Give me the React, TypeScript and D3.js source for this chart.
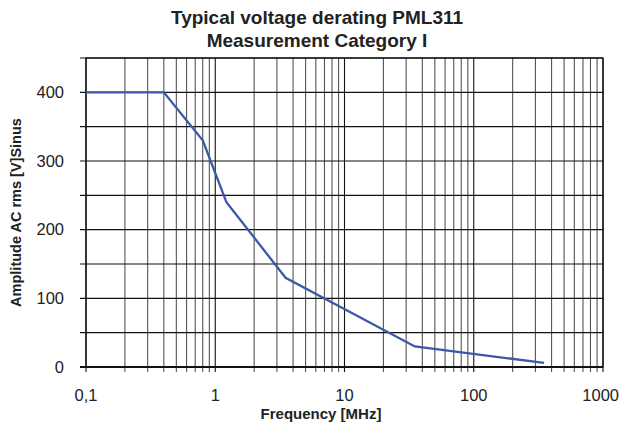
import * as d3 from "d3"
import { useEffect, useRef } from "react"

// Derating curve
const freqMHz = [0.1, 0.4, 0.8, 1.22, 3.5, 35, 350]
const voltage = [400, 400, 330, 240, 130, 30, 6]

const yTicks = [0, 100, 200, 300, 400]
const xTicks = [0.1, 1, 10, 100, 1000]

const titleLines = ["Typical voltage derating PML311", "Measurement Category I"]
const xLabel = "Frequency [MHz]"
const yLabel = "Amplitude AC rms [V]Sinus"

export default function App() {
  const svgRef = useRef<SVGSVGElement>(null)

  useEffect(() => {
    if (!svgRef.current) return
    const root = d3.select(svgRef.current)
    root.selectAll("*").remove()

    const W = 620
    const H = 428
    const margin = { top: 58, right: 17, bottom: 61, left: 86 }
    const width = W - margin.left - margin.right
    const height = H - margin.top - margin.bottom
    const font = "'Liberation Sans', Arial, sans-serif"

    root.attr("width", W).attr("height", H).style("font-family", font)

    const x = d3.scaleLog().domain([0.1, 1000]).range([0, width])
    const y = d3.scaleLinear().domain([0, 450]).range([height, 0])

    const g = root.append("g").attr("transform", `translate(${margin.left},${margin.top})`)

    // every 1..9 line of each decade
    const minor: number[] = []
    for (let e = -1; e < 3; e++) {
      for (let m = 1; m < 10; m++) minor.push(m * Math.pow(10, e))
    }
    minor.push(1000)

    g.append("g")
      .selectAll("line")
      .data(minor)
      .join("line")
      .attr("x1", (d) => x(d))
      .attr("x2", (d) => x(d))
      .attr("y1", 0)
      .attr("y2", height + 5)
      .attr("stroke", (d) => (xTicks.includes(d) ? "#111" : "#555"))
      .attr("stroke-width", 1.1)

    g.append("g")
      .selectAll("line")
      .data(d3.range(0, 451, 50))
      .join("line")
      .attr("x1", -6)
      .attr("x2", width)
      .attr("y1", (d) => y(d))
      .attr("y2", (d) => y(d))
      .attr("stroke", "#111")
      .attr("stroke-width", 1.1)

    // frame
    g.append("rect")
      .attr("width", width)
      .attr("height", height)
      .attr("fill", "none")
      .attr("stroke", "#111")
      .attr("stroke-width", 1.3)

    g.append("line")
      .attr("x1", -6)
      .attr("x2", width)
      .attr("y1", height)
      .attr("y2", height)
      .attr("stroke", "#111")
      .attr("stroke-width", 2)

    // y tick labels
    g.append("g")
      .selectAll("text")
      .data(yTicks)
      .join("text")
      .attr("x", -22)
      .attr("y", (d) => y(d))
      .attr("dy", "0.35em")
      .attr("text-anchor", "end")
      .style("font-size", "16.5px")
      .attr("fill", "#222")
      .text((d) => d)

    // x tick labels (the last one sits against the right edge)
    g.append("g")
      .selectAll("text")
      .data(xTicks)
      .join("text")
      .attr("x", (d, i) => (i === xTicks.length - 1 ? W - margin.left - 1 : x(d)))
      .attr("y", height + 34)
      .attr("text-anchor", (_, i) => (i === xTicks.length - 1 ? "end" : "middle"))
      .style("font-size", "16.5px")
      .attr("fill", "#222")
      .text((d) => (d < 1 ? String(d).replace(".", ",") : String(d)))

    const line = d3
      .line<number>()
      .x((_, i) => x(freqMHz[i]))
      .y((d) => y(d))

    g.append("path")
      .datum(voltage)
      .attr("fill", "none")
      .attr("stroke", "#3C58A8")
      .attr("stroke-width", 2.3)
      .attr("d", line)

    // titles
    root
      .append("g")
      .selectAll("text")
      .data(titleLines)
      .join("text")
      .attr("x", 317)
      .attr("y", (_, i) => 24 + i * 23)
      .attr("text-anchor", "middle")
      .style("font-size", "19px")
      .style("font-weight", "bold")
      .attr("fill", "#222")
      .text((d) => d)

    root
      .append("text")
      .attr("x", 321)
      .attr("y", 419)
      .attr("text-anchor", "middle")
      .style("font-size", "15px")
      .style("font-weight", "bold")
      .attr("fill", "#222")
      .text(xLabel)

    root
      .append("text")
      .attr("transform", `translate(21,${margin.top + height / 2}) rotate(-90)`)
      .attr("text-anchor", "middle")
      .style("font-size", "14.5px")
      .style("font-weight", "bold")
      .attr("fill", "#222")
      .text(yLabel)
  }, [])

  return <svg ref={svgRef} style={{ position: "absolute", left: 0, top: 0 }} />
}
